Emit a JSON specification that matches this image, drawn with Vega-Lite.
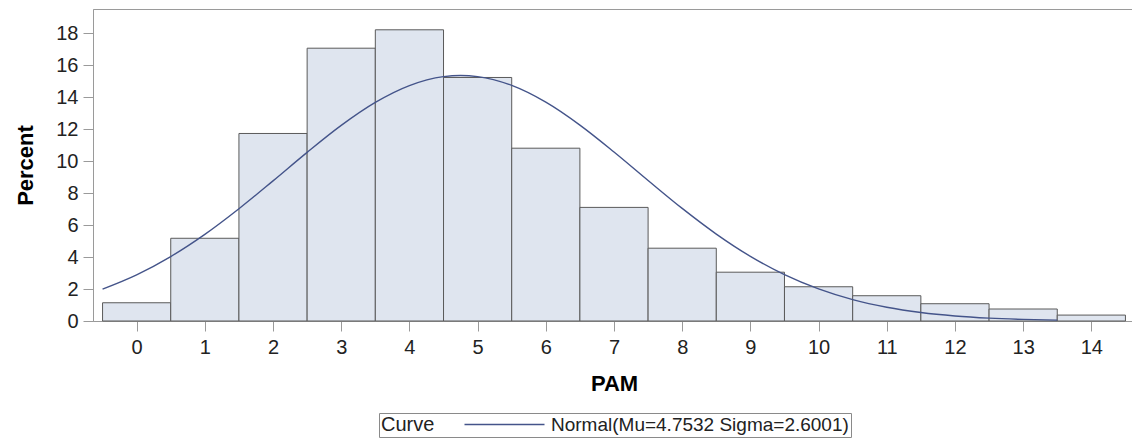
{
  "$schema": "https://vega.github.io/schema/vega-lite/v6.json",
  "autosize": {"type": "none"},
  "padding": {"left": 93, "top": 9, "right": 0, "bottom": 119},
  "width": 1042,
  "height": 312,
  "background": "white",
  "config": {
    "font": "Liberation Sans",
    "view": {"stroke": "#9a9a9a", "strokeWidth": 1},
    "axis": {
      "domainColor": "#9a9a9a",
      "tickColor": "#9a9a9a",
      "tickSize": 10,
      "grid": false,
      "labelOverlap": false,
      "labelFont": "Liberation Sans",
      "labelFontSize": 20,
      "labelColor": "#222222",
      "titleFont": "Liberation Sans",
      "titleFontSize": 22,
      "titleFontWeight": "bold",
      "titleColor": "#000000"
    }
  },
  "datasets": {
    "bars": [
      {"PAM": 0, "lo": -0.5, "hi": 0.5, "pct": 1.14},
      {"PAM": 1, "lo": 0.5, "hi": 1.5, "pct": 5.17},
      {"PAM": 2, "lo": 1.5, "hi": 2.5, "pct": 11.72},
      {"PAM": 3, "lo": 2.5, "hi": 3.5, "pct": 17.05},
      {"PAM": 4, "lo": 3.5, "hi": 4.5, "pct": 18.2},
      {"PAM": 5, "lo": 4.5, "hi": 5.5, "pct": 15.22},
      {"PAM": 6, "lo": 5.5, "hi": 6.5, "pct": 10.8},
      {"PAM": 7, "lo": 6.5, "hi": 7.5, "pct": 7.1},
      {"PAM": 8, "lo": 7.5, "hi": 8.5, "pct": 4.55},
      {"PAM": 9, "lo": 8.5, "hi": 9.5, "pct": 3.05},
      {"PAM": 10, "lo": 9.5, "hi": 10.5, "pct": 2.14},
      {"PAM": 11, "lo": 10.5, "hi": 11.5, "pct": 1.58},
      {"PAM": 12, "lo": 11.5, "hi": 12.5, "pct": 1.08},
      {"PAM": 13, "lo": 12.5, "hi": 13.5, "pct": 0.75},
      {"PAM": 14, "lo": 13.5, "hi": 14.5, "pct": 0.37}
    ],
    "curve": [
      {"lo": -0.5, "pct": 1.993, "series": "Normal(Mu=4.7532 Sigma=2.6001)"},
      {"lo": 0, "pct": 2.886, "series": "Normal(Mu=4.7532 Sigma=2.6001)"},
      {"lo": 0.5, "pct": 4.026, "series": "Normal(Mu=4.7532 Sigma=2.6001)"},
      {"lo": 1, "pct": 5.413, "series": "Normal(Mu=4.7532 Sigma=2.6001)"},
      {"lo": 1.5, "pct": 7.015, "series": "Normal(Mu=4.7532 Sigma=2.6001)"},
      {"lo": 2, "pct": 8.759, "series": "Normal(Mu=4.7532 Sigma=2.6001)"},
      {"lo": 2.5, "pct": 10.541, "series": "Normal(Mu=4.7532 Sigma=2.6001)"},
      {"lo": 3, "pct": 12.224, "series": "Normal(Mu=4.7532 Sigma=2.6001)"},
      {"lo": 3.5, "pct": 13.66, "series": "Normal(Mu=4.7532 Sigma=2.6001)"},
      {"lo": 4, "pct": 14.712, "series": "Normal(Mu=4.7532 Sigma=2.6001)"},
      {"lo": 4.5, "pct": 15.27, "series": "Normal(Mu=4.7532 Sigma=2.6001)"},
      {"lo": 4.75, "pct": 15.343, "series": "Normal(Mu=4.7532 Sigma=2.6001)"},
      {"lo": 5, "pct": 15.274, "series": "Normal(Mu=4.7532 Sigma=2.6001)"},
      {"lo": 5.5, "pct": 14.723, "series": "Normal(Mu=4.7532 Sigma=2.6001)"},
      {"lo": 6, "pct": 13.677, "series": "Normal(Mu=4.7532 Sigma=2.6001)"},
      {"lo": 6.5, "pct": 12.244, "series": "Normal(Mu=4.7532 Sigma=2.6001)"},
      {"lo": 7, "pct": 10.562, "series": "Normal(Mu=4.7532 Sigma=2.6001)"},
      {"lo": 7.5, "pct": 8.782, "series": "Normal(Mu=4.7532 Sigma=2.6001)"},
      {"lo": 8, "pct": 7.036, "series": "Normal(Mu=4.7532 Sigma=2.6001)"},
      {"lo": 8.5, "pct": 5.433, "series": "Normal(Mu=4.7532 Sigma=2.6001)"},
      {"lo": 9, "pct": 4.041, "series": "Normal(Mu=4.7532 Sigma=2.6001)"},
      {"lo": 9.5, "pct": 2.898, "series": "Normal(Mu=4.7532 Sigma=2.6001)"},
      {"lo": 10, "pct": 2.003, "series": "Normal(Mu=4.7532 Sigma=2.6001)"},
      {"lo": 10.5, "pct": 1.334, "series": "Normal(Mu=4.7532 Sigma=2.6001)"},
      {"lo": 11, "pct": 0.856, "series": "Normal(Mu=4.7532 Sigma=2.6001)"},
      {"lo": 11.5, "pct": 0.53, "series": "Normal(Mu=4.7532 Sigma=2.6001)"},
      {"lo": 12, "pct": 0.316, "series": "Normal(Mu=4.7532 Sigma=2.6001)"},
      {"lo": 12.5, "pct": 0.181, "series": "Normal(Mu=4.7532 Sigma=2.6001)"},
      {"lo": 13, "pct": 0.1, "series": "Normal(Mu=4.7532 Sigma=2.6001)"},
      {"lo": 13.5, "pct": 0.054, "series": "Normal(Mu=4.7532 Sigma=2.6001)"}
    ]
  },
  "encoding": {
    "x": {
      "field": "lo",
      "type": "quantitative",
      "scale": {"domain": [-0.64, 14.64], "nice": false, "zero": false},
      "axis": {"title": "PAM", "values": [0,1,2,3,4,5,6,7,8,9,10,11,12,13,14], "format": "d", "labelPadding": 6, "titlePadding": 16}
    },
    "y": {
      "field": "pct",
      "type": "quantitative",
      "scale": {"domain": [0, 19.5], "nice": false},
      "axis": {"title": "Percent", "values": [0,2,4,6,8,10,12,14,16,18], "tickCount": 10, "format": "d", "labelPadding": 5, "titlePadding": 18}
    }
  },
  "layer": [
    {
      "data": {"name": "bars"},
      "mark": {"type": "rect", "fill": "#dfe5ef", "stroke": "#5a5a5a", "strokeWidth": 1},
      "encoding": {
        "x2": {"field": "hi"},
        "y2": {"datum": 0}
      }
    },
    {
      "data": {"name": "curve"},
      "mark": {"type": "line", "interpolate": "monotone", "strokeWidth": 1.4},
      "encoding": {
        "stroke": {
          "field": "series",
          "type": "nominal",
          "scale": {"range": ["#44548a"]},
          "legend": {
            "title": "Curve",
            "orient": "none",
            "legendX": 286,
            "legendY": 404,
            "direction": "horizontal",
            "titleOrient": "left",
            "titleFontSize": 20,
            "titleFontWeight": "normal",
            "titleColor": "#222222",
            "titlePadding": 25,
            "labelFontSize": 19,
            "labelColor": "#222222",
            "labelLimit": 500,
            "labelOffset": 72,
            "symbolType": "M-1,0H15",
            "symbolSize": 100,
            "symbolStrokeWidth": 1.4,
            "strokeColor": "#8a8a8a",
            "padding": 2
          }
        }
      }
    }
  ]
}
